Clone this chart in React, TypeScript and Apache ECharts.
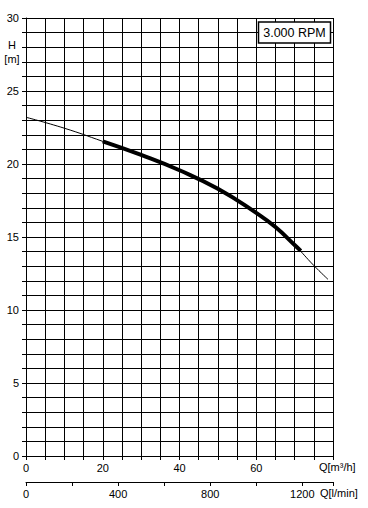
import React, { useEffect, useRef } from "react";
import * as echarts from "echarts";

// Pump curve (Q in m³/h, H in m)
const curveQ = [0, 10, 20, 30, 40, 50, 60, 65, 70, 75, 78.7];
const curveH = [23.2, 22.45, 21.55, 20.62, 19.57, 18.3, 16.65, 15.68, 14.45, 13.05, 12.1];
// Thick (recommended) section
const opQ = [20, 30, 40, 50, 60, 65, 70, 71.6];
const opH = [21.55, 20.62, 19.57, 18.3, 16.65, 15.68, 14.45, 14.05];

const qMax = 80; // m³/h
const hMax = 30; // m
const lminPerM3h = 1000 / 60;
const qTickLabels = [0, 20, 40, 60];
const lminTickLabels = [0, 400, 800, 1200];
const hTickLabels = [0, 5, 10, 15, 20, 25, 30];

const FONT = "Liberation Sans, Arial, sans-serif";

export default function App() {
  const ref = useRef<HTMLDivElement>(null);
  useEffect(() => {
    document.body.style.margin = "0";
    const chart = echarts.init(ref.current!, null, { renderer: "svg" });
    const black = "#000";
    chart.setOption({
      animation: false,
      backgroundColor: "#fff",
      textStyle: { fontFamily: FONT },
      grid: { left: 26, right: 35, top: 18, bottom: 52, containLabel: false },
      xAxis: [
        {
          type: "value",
          min: 0,
          max: qMax,
          interval: 5,
          position: "bottom",
          axisLine: { show: true, lineStyle: { color: black, width: 1 } },
          axisTick: { show: true, length: 4, lineStyle: { color: black } },
          splitLine: { show: true, lineStyle: { color: black, width: 1 } },
          axisLabel: {
            color: black,
            fontSize: 11,
            fontFamily: FONT,
            margin: 6,
            formatter: (v: number) => (qTickLabels.includes(v) ? String(v) : ""),
          },
        },
        {
          type: "value",
          min: 0,
          max: qMax * lminPerM3h,
          interval: 200,
          position: "bottom",
          offset: 26,
          axisLine: { show: true, onZero: false, lineStyle: { color: black, width: 1 } },
          axisTick: { show: true, length: 4, lineStyle: { color: black } },
          splitLine: { show: false },
          axisLabel: {
            color: black,
            fontSize: 11,
            fontFamily: FONT,
            margin: 6,
            formatter: (v: number) => (lminTickLabels.includes(Math.round(v)) && Math.abs(v - Math.round(v)) < 1e-6 ? String(v) : ""),
          },
        },
      ],
      yAxis: {
        type: "value",
        min: 0,
        max: hMax,
        interval: 1,
        axisLine: { show: true, lineStyle: { color: black, width: 1 } },
        axisTick: { show: true, length: 4, lineStyle: { color: black } },
        splitLine: { show: true, lineStyle: { color: black, width: 1 } },
        axisLabel: {
          color: black,
          fontSize: 11,
          fontFamily: FONT,
          margin: 7,
          formatter: (v: number) => (hTickLabels.includes(v) ? String(v) : ""),
        },
      },
      series: [
        {
          type: "line",
          xAxisIndex: 0,
          yAxisIndex: 0,
          smooth: true,
          showSymbol: false,
          lineStyle: { color: black, width: 1 },
          data: curveQ.map((q, i) => [q, curveH[i]]),
          z: 3,
        },
        {
          type: "line",
          xAxisIndex: 0,
          yAxisIndex: 0,
          smooth: true,
          showSymbol: false,
          lineStyle: { color: black, width: 4, cap: "butt" },
          data: opQ.map((q, i) => [q, opH[i]]),
          z: 4,
        },
      ],
      graphic: [
        {
          type: "rect",
          shape: { x: 258.5, y: 22, width: 72, height: 21 },
          style: { fill: "#fff", stroke: black, lineWidth: 1.5 },
          z: 10,
        },
        {
          type: "text",
          x: 294.5,
          y: 33,
          style: { text: "3.000 RPM", fontSize: 12.5, fontFamily: FONT, fill: black, align: "center", verticalAlign: "middle" },
          z: 11,
        },
        {
          type: "text",
          x: 12,
          y: 45,
          style: { text: "H", fontSize: 11, fontFamily: FONT, fill: black, align: "center", verticalAlign: "middle" },
        },
        {
          type: "text",
          x: 12,
          y: 59,
          style: { text: "[m]", fontSize: 11, fontFamily: FONT, fill: black, align: "center", verticalAlign: "middle" },
        },
        {
          type: "text",
          x: 319,
          y: 467,
          style: { text: "Q[m³/h]", fontSize: 11, fontFamily: FONT, fill: black, align: "left", verticalAlign: "middle" },
        },
        {
          type: "text",
          x: 320,
          y: 493,
          style: { text: "Q[l/min]", fontSize: 11, fontFamily: FONT, fill: black, align: "left", verticalAlign: "middle" },
        },
      ],
    });
    return () => chart.dispose();
  }, []);
  return <div ref={ref} style={{ width: 368, height: 508 }} />;
}
